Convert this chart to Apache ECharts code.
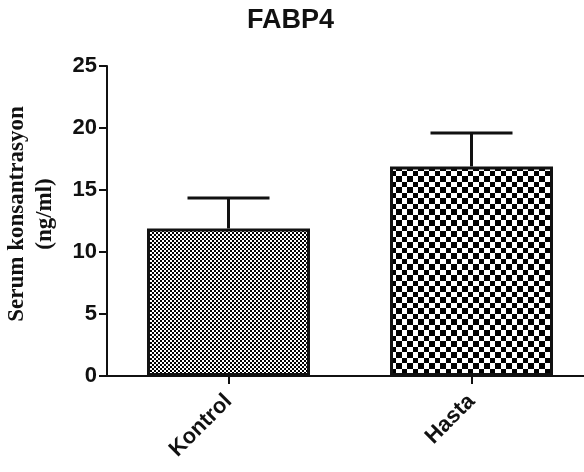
<!DOCTYPE html>
<html>
<head>
<meta charset="utf-8">
<script src="https://cdn.jsdelivr.net/npm/echarts@6/dist/echarts.min.js"></script>
<style>
html,body{margin:0;padding:0;background:#fff;}
#main{width:584px;height:472px;}
</style>
</head>
<body>
<div id="main"></div>
<script>
var categories = ['Kontrol', 'Hasta'];
var means = [11.9, 16.9];
var errors = [2.45, 2.7];
var yTicks = [0, 5, 10, 15, 20, 25];

function makePattern(cell, size) {
  var c = document.createElement('canvas');
  c.width = size; c.height = size;
  var ctx = c.getContext('2d');
  ctx.fillStyle = '#ffffff';
  ctx.fillRect(0, 0, size, size);
  ctx.fillStyle = '#000000';
  ctx.fillRect(0, 0, cell, cell);
  ctx.fillRect(cell, cell, size - cell, size - cell);
  return c;
}
var patKontrol = makePattern(2, 4);
var patHasta = makePattern(6, 11);
var patterns = [patKontrol, patHasta];

var chart = echarts.init(document.getElementById('main'));
var option = {
  animation: false,
  backgroundColor: '#fff',
  title: {
    text: 'FABP4',
    left: 242,
    top: 2,
    textStyle: {fontFamily: 'Liberation Sans, Arial', fontWeight: 'bold', fontSize: 27, color: '#111'}
  },
  grid: {left: 107, top: 66, width: 486, height: 310, outerBoundsMode: 'none', containLabel: false},
  xAxis: {
    type: 'category',
    data: categories,
    axisLine: {lineStyle: {color: '#111', width: 2}},
    axisTick: {show: true, alignWithLabel: true, length: 8, lineStyle: {color: '#111', width: 2}},
    axisLabel: {rotate: 45, margin: 22, fontFamily: 'Liberation Sans, Arial', fontWeight: 'bold', fontSize: 22, color: '#111'}
  },
  yAxis: {
    type: 'value',
    min: 0, max: 25, interval: 5,
    splitLine: {show: false},
    axisLine: {show: true, lineStyle: {color: '#111', width: 2}},
    axisTick: {show: true, length: 8, lineStyle: {color: '#111', width: 2}},
    axisLabel: {margin: 10, fontFamily: 'Liberation Sans, Arial', fontWeight: 'bold', fontSize: 22, color: '#111'}
  },
  graphic: [{
    type: 'text',
    x: 31, y: 214,
    rotation: Math.PI / 2,
    style: {
      text: 'Serum konsantrasyon\n(ng/ml)',
      fontFamily: 'Liberation Serif, Times New Roman',
      fontWeight: 'bold',
      fontSize: 23,
      lineHeight: 28,
      fill: '#111',
      align: 'center',
      verticalAlign: 'middle'
    }
  }],
  series: [{
    type: 'bar',
    barWidth: 163,
    data: means.map(function (v, i) {
      return {value: v, itemStyle: {color: {image: patterns[i], repeat: 'repeat'}, borderColor: '#111', borderWidth: 3}};
    }),
    z: 2
  }, {
    type: 'custom',
    data: means.map(function (v, i) { return [i, v, v + errors[i]]; }),
    renderItem: function (params, api) {
      var x = api.value(0);
      var p0 = api.coord([x, api.value(1)]);
      var p1 = api.coord([x, api.value(2)]);
      var half = 41;
      return {
        type: 'group',
        children: [
          {type: 'line', shape: {x1: p0[0], y1: p0[1], x2: p1[0], y2: p1[1]}, style: {stroke: '#111', lineWidth: 3}},
          {type: 'line', shape: {x1: p1[0] - half, y1: p1[1], x2: p1[0] + half, y2: p1[1]}, style: {stroke: '#111', lineWidth: 3}}
        ]
      };
    },
    z: 3
  }]
};
chart.setOption(option);
</script>
</body>
</html>
